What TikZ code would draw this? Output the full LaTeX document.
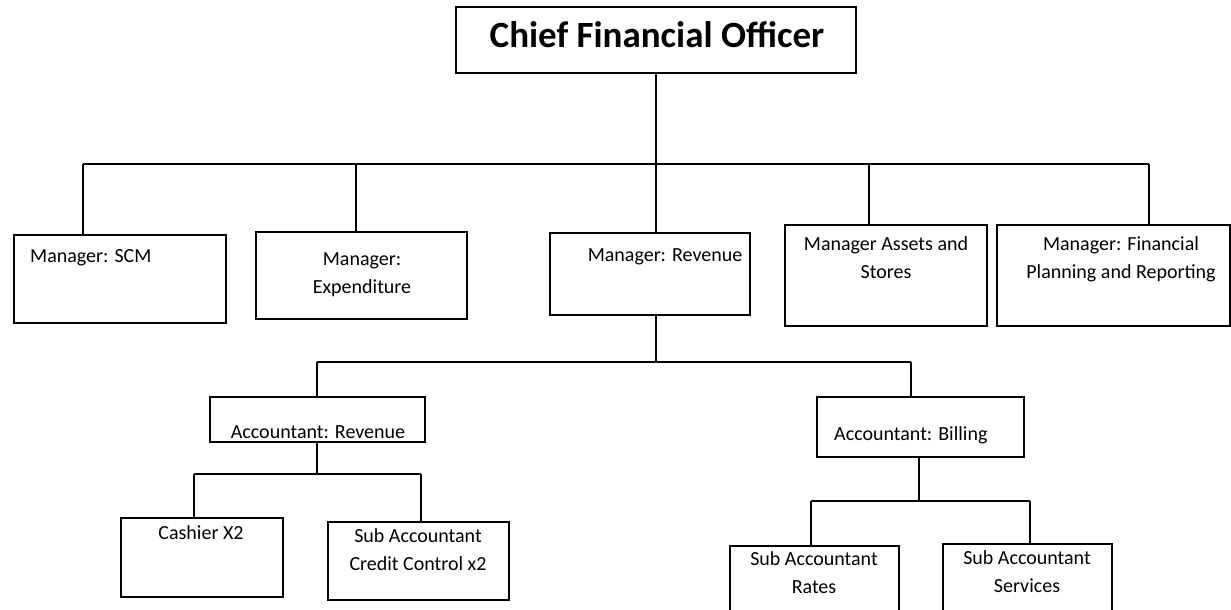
\documentclass[tikz,border=0pt]{standalone}
\usepackage{fontspec}
\setmainfont{Carlito}
\tikzset{
  box/.style={draw, line width=1.3pt, inner sep=0pt, outer sep=0pt},
  conn/.style={line width=1.3pt},
  lbl/.style={font=\fontsize{20}{28}\selectfont, align=center, inner sep=0pt, anchor=base},
  lbll/.style={font=\fontsize{20}{28}\selectfont, inner sep=0pt, anchor=base west},
}
\begin{document}
\begin{tikzpicture}[x=1pt,y=-1pt]
\useasboundingbox (0,0) rectangle (1231,610);
\clip (0,0) rectangle (1231,610);
% boxes
\node[box, minimum width=400pt, minimum height=66pt] (cfo) at (656,40) {};
\node[box, minimum width=212pt, minimum height=88pt] (scm) at (120,279) {};
\node[box, minimum width=211pt, minimum height=87pt] (exp) at (361.5,275.5) {};
\node[box, minimum width=200pt, minimum height=82pt] (rev) at (650,274) {};
\node[box, minimum width=202pt, minimum height=101pt] (ast) at (886,275.5) {};
\node[box, minimum width=233pt, minimum height=101pt] (fpr) at (1113.5,275.5) {};
\node[box, minimum width=215pt, minimum height=45pt] (accrev) at (317.5,419.5) {};
\node[box, minimum width=207pt, minimum height=60pt] (accbill) at (920.5,427) {};
\node[box, minimum width=162pt, minimum height=79pt] (cash) at (202,557.5) {};
\node[box, minimum width=181pt, minimum height=78pt] (subcc) at (418.5,561) {};
\node[box, minimum width=169pt, minimum height=74pt] (rates) at (814.5,583) {};
\node[box, minimum width=169pt, minimum height=76pt] (serv) at (1027.5,582) {};
% texts (multi-line nodes: base anchor is the last line's baseline)
\node[font=\bfseries\fontsize{37}{40}\selectfont, inner sep=0pt, anchor=base] (cfo-t) at (657,48) {Chief Financial Officer};
\node[lbll] (scm-t) at (30,262) {Manager: SCM};
\node[lbl] (exp-t) at (362,293) {Manager:\\Expenditure};
\node[lbl] (rev-t) at (665,261) {Manager: Revenue};
\node[lbl] (ast-t) at (886,278) {Manager Assets and\\Stores};
\node[lbl] (fpr-t) at (1121,278) {Manager: Financial\\Planning and Reporting};
\node[lbl] (accrev-t) at (318,438) {Accountant: Revenue};
\node[lbll] (accbill-t) at (834,440) {Accountant: Billing};
\node[lbl] (cash-t) at (201,539) {Cashier X2};
\node[lbl] (subcc-t) at (418,570) {Sub Accountant\\Credit Control x2};
\node[lbl] (rates-t) at (814,593) {Sub Accountant\\Rates};
\node[lbl] (serv-t) at (1027,592) {Sub Accountant\\Services};
% connectors
\coordinate (t1L) at (83,164);
\coordinate (t1R) at (1149,164);
\coordinate (d2) at (356,164);
\coordinate (d4) at (869,164);
\draw[conn] (cfo.south) -- (cfo.south |- t1L);
\draw[conn] (t1L) -- (t1R);
\draw[conn] (t1L) -- (t1L |- scm.north);
\draw[conn] (d2) -- (d2 |- exp.north);
\draw[conn] (cfo.south |- t1L) -- (cfo.south |- rev.north);
\draw[conn] (d4) -- (d4 |- ast.north);
\draw[conn] (t1R) -- (t1R |- fpr.north);
\coordinate (t2L) at (317,362);
\coordinate (t2R) at (911,362);
\draw[conn] (cfo.south |- rev.south) -- (cfo.south |- t2L);
\draw[conn] (t2L) -- (t2R);
\draw[conn] (t2L) -- (t2L |- accrev.north);
\draw[conn] (t2R) -- (t2R |- accbill.north);
\coordinate (t3L) at (194,474);
\coordinate (t3R) at (421,474);
\coordinate (t3) at (317,474);
\draw[conn] (t3 |- accrev.south) -- (t3);
\draw[conn] (t3L) -- (t3R);
\draw[conn] (t3L) -- (t3L |- cash.north);
\draw[conn] (t3R) -- (t3R |- subcc.north);
\coordinate (t4) at (919,501);
\coordinate (t4L) at (811,501);
\coordinate (t4R) at (1030,501);
\draw[conn] (t4 |- accbill.south) -- (t4);
\draw[conn] (t4L) -- (t4R);
\draw[conn] (t4L) -- (t4L |- rates.north);
\draw[conn] (t4R) -- (t4R |- serv.north);
\end{tikzpicture}
\end{document}
